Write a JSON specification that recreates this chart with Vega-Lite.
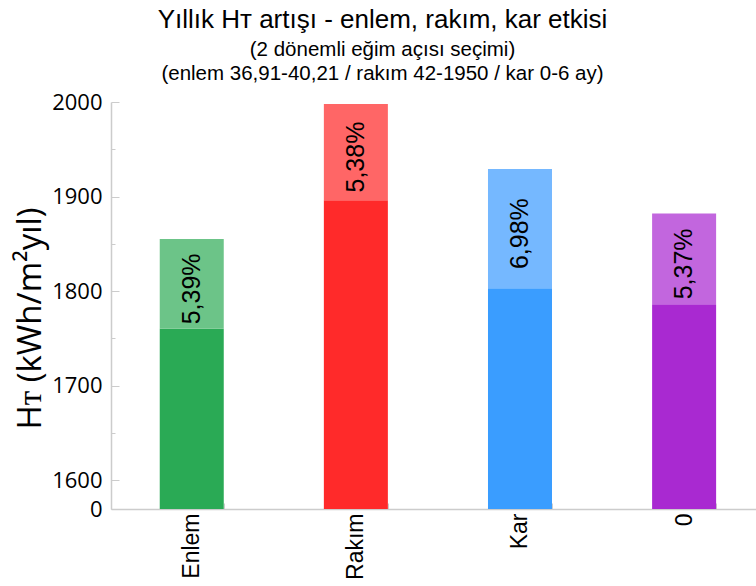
{
  "$schema": "https://vega.github.io/schema/vega-lite/v6.json",
  "autosize": "none",
  "width": 645,
  "height": 407,
  "padding": {"left": 111, "top": 102, "right": 0, "bottom": 77},
  "background": "white",
  "config": {
    "view": {"stroke": null},
    "font": "Liberation Sans"
  },
  "title": {
    "text": "Yıllık Hᴛ artışı - enlem, rakım, kar etkisi",
    "subtitle": ["(2 dönemli eğim açısı seçimi)", "(enlem 36,91-40,21 / rakım 42-1950 / kar 0-6 ay)"],
    "fontSize": 26,
    "fontWeight": "normal",
    "font": "Liberation Sans",
    "subtitleFont": "Liberation Sans",
    "subtitleFontSize": 20.5,
    "subtitleColor": "black",
    "subtitleLineHeight": 24,
    "color": "black",
    "anchor": "middle",
    "dx": -51,
    "offset": 7,
    "subtitlePadding": 7
  },
  "data": {
    "values": [
      {"category": "Enlem", "base": 1760, "total": 1855, "pct": "5,39%"},
      {"category": "Rakım", "base": 1896, "total": 1998, "pct": "5,38%"},
      {"category": "Kar", "base": 1803, "total": 1929, "pct": "6,98%"},
      {"category": "0", "base": 1786, "total": 1882, "pct": "5,37%"}
    ]
  },
  "encoding": {
    "x": {
      "field": "category",
      "type": "nominal",
      "sort": null,
      "scale": {"paddingInner": 0.61, "paddingOuter": 0.27, "align": 0.55},
      "axis": {
        "title": null,
        "labelAngle": -90,
        "labelAlign": "right",
        "labelBaseline": "middle",
        "labelFontSize": 23,
        "labelColor": "black",
        "labelFont": "Liberation Sans",
        "labelPadding": 10,
        "domainColor": "#cccccc",
        "domainWidth": 1.5,
        "tickColor": "#cccccc",
        "tickBand": "extent",
        "tickSize": -6
      }
    }
  },
  "layer": [
    {
      "mark": {"type": "bar"},
      "encoding": {
        "y": {
          "field": "base",
          "type": "quantitative",
          "scale": {"domain": [0, 1600, 2000], "range": [407, 378, 0]},
          "axis": {
            "title": "Hᴛ (kWh/m²yıl)",
            "titleFontSize": 33,
            "titleFont": "Open Sans",
            "titleFontWeight": "normal",
            "titleColor": "black",
            "titlePadding": 4,
            "titleY": 216,
            "values": [0, 1600, 1650, 1700, 1750, 1800, 1850, 1900, 1950, 2000],
            "format": "d",
            "labelExpr": "datum.value % 100 == 50 ? '' : datum.label",
            "labelFont": "Open Sans",
            "labelFontSize": 22,
            "labelColor": "black",
            "labelPadding": 17,
            "grid": false,
            "domainColor": "#cccccc",
            "domainWidth": 1.5,
            "tickColor": "#cccccc",
            "tickSize": {"condition": {"test": "datum.value % 100 == 50", "value": -4}, "value": -8}
          }
        },
        "y2": {"datum": 0},
        "color": {
          "field": "category",
          "type": "nominal",
          "sort": null,
          "scale": {"domain": ["Enlem", "Rakım", "Kar", "0"], "range": ["#2aaa55", "#ff2a2a", "#3a9dff", "#a929d1"]},
          "legend": null
        }
      }
    },
    {
      "mark": {"type": "bar"},
      "encoding": {
        "y": {"field": "base", "type": "quantitative"},
        "y2": {"field": "total"},
        "color": {
          "field": "category",
          "type": "nominal",
          "sort": null,
          "scale": {"domain": ["Enlem", "Rakım", "Kar", "0"], "range": ["#6cc488", "#ff6666", "#75b8ff", "#c266de"]},
          "legend": null
        }
      }
    },
    {
      "transform": [{"calculate": "(datum.base + datum.total) / 2", "as": "mid"}],
      "mark": {"type": "text", "angle": 270, "fontSize": 25, "font": "Liberation Sans", "color": "black", "align": "center", "baseline": "middle", "dx": -5},
      "encoding": {
        "y": {"field": "mid", "type": "quantitative"},
        "text": {"field": "pct"}
      }
    }
  ],
  "resolve": {"scale": {"color": "independent"}}
}
